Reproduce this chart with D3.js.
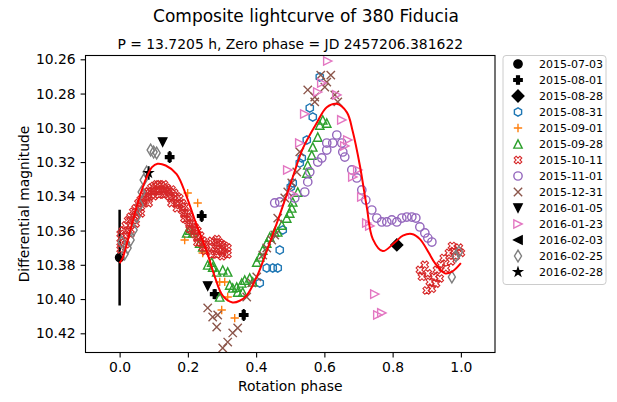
<!DOCTYPE html>
<html><head><meta charset="utf-8">
<script src="https://cdn.jsdelivr.net/npm/d3@7"></script>
<style>body{margin:0;background:#fff;} text{font-family:"DejaVu Sans",sans-serif;fill:#000;}</style>
</head><body><svg id="c" width="617" height="402"></svg>
<script>
// ---------- data ----------
const seriesDates = ["2015-07-03","2015-08-01","2015-08-28","2015-08-31","2015-09-01","2015-09-28","2015-10-11","2015-11-01","2015-12-31","2016-01-05","2016-01-23","2016-02-03","2016-02-25","2016-02-28"];
const seriesMarkers = ["o","P","D","h","+","^","X","o","x","v",">","<","d","*"];
const seriesColors = ["#000000","#000000","#000000","#1f77b4","#ff7f0e","#2ca02c","#d62728","#9467bd","#8c564b","#000000","#e377c2","#000000","#7f7f7f","#000000"];
const seriesFilled = [true,true,true,false,false,false,false,false,false,true,false,true,false,true];

const xTicks = [0.0,0.2,0.4,0.6,0.8,1.0];
const yTicks = [10.26,10.28,10.30,10.32,10.34,10.36,10.38,10.40,10.42];

const ph_0703 = [0.000];
const mag_0703 = [10.3758];
const err_0703 = [0.028];

const ph_0801 = [0.1466,0.2405,0.2786,0.3636];
const mag_0801 = [10.3171,10.3515,10.3971,10.4093];
const err_0801 = [0.0035,0.0035,0.003,0.0035];

const ph_0828 = [0.8123];
const mag_0828 = [10.3684];

const ph_0831 = [0.5865,0.5572,0.5660,0.5484,0.5337,0.5279,0.5073,0.5015,0.4780,0.4692,0.4633,0.4487,0.4311,0.4106];
const mag_0831 = [10.2703,10.2884,10.2937,10.3071,10.3176,10.3206,10.3322,10.3346,10.3597,10.3714,10.3819,10.3819,10.3819,10.3906];

const ph_0901 = [0.1994,0.2287,0.1906,0.2434,0.2933,0.3079,0.3167,0.2991,0.3372];
const mag_0901 = [10.3381,10.3439,10.3655,10.3731,10.3900,10.3900,10.3988,10.4064,10.4111];

const ph_0928 = [0.1965,0.2053,0.2141,0.2346,0.2434,0.2581,0.2698,0.2727,0.2845,0.2933,0.3021,0.3167,0.3226,0.3314,0.3431,0.3460,0.3578,0.3607,0.3666,0.3812,0.3900,0.4018,0.4106,0.4194,0.4311,0.4399,0.4545,0.4633,0.4751,0.4897,0.4985,0.5044,0.5073,0.5220,0.5484,0.5513,0.5630,0.5660,0.5806,0.5865,0.5953,0.6070];
const mag_0928 = [10.3614,10.3597,10.3614,10.3673,10.3696,10.3801,10.3784,10.3813,10.3842,10.3988,10.3830,10.3842,10.3918,10.3935,10.3930,10.3959,10.3906,10.3959,10.3889,10.3877,10.3900,10.3784,10.3754,10.3714,10.3673,10.3638,10.3608,10.3608,10.3568,10.3527,10.3498,10.3468,10.3433,10.3375,10.3264,10.3217,10.3159,10.3112,10.3054,10.2984,10.2954,10.2972];

const ph_1011 = [0.003,0.003,0.003,0.010,0.010,0.018,0.018,0.018,0.025,0.025,0.032,0.032,0.032,0.040,0.040,0.047,0.047,0.047,0.055,0.055,0.062,0.062,0.062,0.070,0.070,0.078,0.078,0.085,0.085,0.085,0.093,0.093,0.100,0.100,0.100,0.108,0.108,0.115,0.115,0.115,0.123,0.123,0.130,0.130,0.130,0.138,0.138,0.145,0.145,0.152,0.152,0.152,0.160,0.160,0.168,0.168,0.168,0.175,0.175,0.183,0.183,0.190,0.190,0.190,0.198,0.198,0.205,0.205,0.205,0.213,0.213,0.220,0.220,0.228,0.228,0.228,0.236,0.236,0.244,0.244,0.251,0.251,0.270,0.270,0.270,0.278,0.278,0.285,0.285,0.285,0.293,0.293,0.300,0.300,0.300,0.308,0.308,0.316,0.316,
  0.880,0.886,0.894,0.900,0.903,0.909,0.915,0.921,0.927,0.930,0.938,0.941,0.950,0.956,0.965,0.971,0.974,0.979,0.985,0.994,1.000];
const mag_1011 = [10.362,10.367,10.371,10.360,10.366,10.357,10.363,10.368,10.354,10.360,10.352,10.357,10.362,10.349,10.354,10.347,10.351,10.356,10.344,10.349,10.342,10.346,10.350,10.340,10.344,10.338,10.342,10.337,10.340,10.344,10.335,10.339,10.334,10.337,10.340,10.333,10.337,10.333,10.336,10.339,10.334,10.337,10.333,10.336,10.339,10.335,10.338,10.337,10.340,10.336,10.341,10.344,10.338,10.342,10.340,10.344,10.347,10.341,10.345,10.344,10.348,10.346,10.350,10.353,10.350,10.354,10.352,10.356,10.359,10.356,10.360,10.358,10.362,10.360,10.364,10.367,10.363,10.367,10.366,10.370,10.368,10.372,10.366,10.370,10.374,10.367,10.372,10.365,10.369,10.374,10.367,10.371,10.368,10.372,10.375,10.369,10.373,10.370,10.374,
  10.383,10.387,10.380,10.395,10.385,10.390,10.394,10.387,10.391,10.383,10.388,10.380,10.376,10.382,10.373,10.378,10.369,10.372,10.375,10.370,10.373];

const ph_1101 = [0.4545,0.4692,0.5132,0.5425,0.5513,0.5572,0.5806,0.5924,0.6070,0.6070,0.6246,0.6364,0.6510,0.6540,0.6598,0.6804,0.6950,0.7097,0.7214,0.7390,0.7537,0.7683,0.7830,0.7977,0.8123,0.8270,0.8416,0.8563,0.8680,0.8798,0.8944,0.9032,0.9150];
const mag_1101 = [10.3439,10.3433,10.3410,10.3375,10.3316,10.3258,10.3200,10.3176,10.3130,10.3089,10.3089,10.3042,10.3089,10.3141,10.3171,10.3246,10.3293,10.3363,10.3422,10.3480,10.3527,10.3550,10.3550,10.3538,10.3550,10.3527,10.3521,10.3521,10.3527,10.3579,10.3614,10.3644,10.3667];

const ph_1231 = [0.2581,0.2727,0.2874,0.2845,0.3021,0.3167,0.3314,0.3460,0.3724,0.3871,0.4018,0.4194,0.4311,0.4457,0.4545,0.4633,0.4839,0.4927,0.5044,0.5191,0.5279,0.5513,0.5718,0.5718,0.5894,0.6070,0.6012,0.6188,0.6305,0.6393];
const mag_1231 = [10.4052,10.4105,10.4093,10.4163,10.4286,10.4251,10.4198,10.4169,10.3988,10.3906,10.3871,10.3743,10.3702,10.3655,10.3626,10.3527,10.3410,10.3375,10.3322,10.3258,10.3141,10.2779,10.2820,10.2849,10.2692,10.2733,10.2762,10.2692,10.2808,10.2849];

const ph_0105 = [0.1261,0.2581];
const mag_0105 = [10.3083,10.3924];

const ph_0123 = [0.6100,0.5924,0.5806,0.6364,0.5425,0.6510,0.5279,0.6686,0.6598,0.4927,0.6979,0.6833,0.5073,0.7097,0.7243,0.7331,0.7478,0.7566,0.7683];
const mag_0123 = [10.2610,10.2738,10.2791,10.2808,10.2919,10.2954,10.3089,10.3071,10.3106,10.3246,10.3246,10.3287,10.3387,10.3404,10.3556,10.3573,10.3971,10.4093,10.4081];

const ph_0203 = [];
const mag_0203 = [];

const ph_0225 = [0.0909,0.0997,0.1085,0.0792,0.0704,0.0645,0.0587,0.0499,0.0411,0.0323,0.0235,0.0147,0.0059,0.9853,0.9941,0.9736];
const mag_0225 = [10.3130,10.3142,10.3147,10.3258,10.3305,10.3375,10.3451,10.3521,10.3597,10.3655,10.3702,10.3737,10.3667,10.3749,10.3725,10.3871];

const ph_0228 = [0.0850];
const mag_0228 = [10.3264];
const err_0228 = [0.004];

// Fourier fit curve, sampled
const fitPhase = [0.000,0.009,0.035,0.059,0.079,0.095,0.111,0.135,0.167,0.196,0.226,0.255,0.279,0.302,0.331,0.352,0.372,0.402,0.431,0.469,0.507,0.537,0.578,0.607,0.636,0.666,0.683,0.704,0.724,0.742,0.771,0.806,0.830,0.856,0.880,0.906,0.924,0.953,0.974,1.000];
const fitMag   = [10.379,10.376,10.357,10.340,10.329,10.323,10.321,10.322,10.327,10.340,10.357,10.372,10.387,10.398,10.402,10.401,10.398,10.387,10.372,10.351,10.329,10.312,10.297,10.288,10.286,10.291,10.302,10.322,10.346,10.365,10.372,10.367,10.363,10.362,10.365,10.373,10.379,10.385,10.384,10.379];

// ---------- chart ----------
const svg = d3.select("#c");
const L = 85.5, R = 495, T = 55.5, B = 352.5;
const x = d3.scaleLinear().domain([-0.1, 1.1]).range([L, R]);
const y = d3.scaleLinear().domain([10.25778, 10.43121]).range([T, B]);

function markerPath(type, s) {
  const h = s / 2;
  const poly = pts => "M" + pts.map(p => p[0].toFixed(2) + "," + p[1].toFixed(2)).join("L") + "Z";
  switch (type) {
    case "o": return `M${h},0A${h},${h} 0 1,1 ${-h},0A${h},${h} 0 1,1 ${h},0Z`;
    case "P": { const w = s / 6; return poly([[-w,-h],[w,-h],[w,-w],[h,-w],[h,w],[w,w],[w,h],[-w,h],[-w,w],[-h,w],[-h,-w],[-w,-w]]); }
    case "X": { const k = s / 4.4; return poly([[-k,-2*k],[0,-k],[k,-2*k],[2*k,-k],[k,0],[2*k,k],[k,2*k],[0,k],[-k,2*k],[-2*k,k],[-k,0],[-2*k,-k]]); }
    case "D": { const d = s * 0.7071; return poly([[0,-d],[d,0],[0,d],[-d,0]]); }
    case "d": { const d = s * 0.7071; return poly([[0,-d],[0.6*d,0],[0,d],[-0.6*d,0]]); }
    case "h": { const pts = []; for (let i = 0; i < 6; i++) { const a = Math.PI/2 + i*Math.PI/3; pts.push([h*Math.cos(a), -h*Math.sin(a)]); } return poly(pts); }
    case "+": return `M${-h},0L${h},0M0,${-h}L0,${h}`;
    case "x": return `M${-h},${-h}L${h},${h}M${-h},${h}L${h},${-h}`;
    case "^": return poly([[0,-h],[h,h],[-h,h]]);
    case "v": return poly([[0,h],[h,-h],[-h,-h]]);
    case ">": return poly([[h,0],[-h,-h],[-h,h]]);
    case "<": return poly([[-h,0],[h,-h],[h,h]]);
    case "*": { const pts = []; for (let i = 0; i < 10; i++) { const r = i % 2 ? h*0.381966 : h; const a = Math.PI/2 + i*Math.PI/5; pts.push([r*Math.cos(a), -r*Math.sin(a)]); } return poly(pts); }
  }
}

const MS = 8.33;
function drawMarkers(g, idx, phs, mags) {
  const type = seriesMarkers[idx], col = seriesColors[idx], filled = seriesFilled[idx];
  const data = phs.map((p, i) => [p, mags[i]]);
  g.selectAll(null).data(data).enter().append("path")
    .attr("transform", d => `translate(${x(d[0])},${y(d[1])})`)
    .attr("d", markerPath(type, MS))
    .attr("fill", filled ? col : "none")
    .attr("stroke", col)
    .attr("stroke-width", type === "X" ? 1.1 : 1.4)
    .attr("stroke-linejoin", "miter");
}
function drawErr(g, phs, mags, errs, w) {
  const data = phs.map((p, i) => [p, mags[i], errs[i]]);
  g.selectAll(null).data(data).enter().append("line")
    .attr("x1", d => x(d[0])).attr("x2", d => x(d[0]))
    .attr("y1", d => y(d[1] - d[2])).attr("y2", d => y(d[1] + d[2]))
    .attr("stroke", "#000").attr("stroke-width", w);
}

svg.append("defs").append("clipPath").attr("id", "clip")
  .append("rect").attr("x", L).attr("y", T).attr("width", R - L).attr("height", B - T);

const plot = svg.append("g").attr("clip-path", "url(#clip)");

const order = [
  [0, ph_0703, mag_0703], [1, ph_0801, mag_0801], [2, ph_0828, mag_0828], [3, ph_0831, mag_0831],
  [4, ph_0901, mag_0901], [5, ph_0928, mag_0928], [6, ph_1011, mag_1011], [7, ph_1101, mag_1101],
  [8, ph_1231, mag_1231], [9, ph_0105, mag_0105], [10, ph_0123, mag_0123], [11, ph_0203, mag_0203],
  [12, ph_0225, mag_0225], [13, ph_0228, mag_0228]
];
drawErr(plot, ph_0703, mag_0703, err_0703, 2.5);
drawErr(plot, ph_0801, mag_0801, err_0801, 2);
drawErr(plot, ph_0228, mag_0228, err_0228, 2);
order.forEach(o => drawMarkers(plot.append("g"), o[0], o[1], o[2]));

// fit curve
const fitData = fitPhase.map((p, i) => [p, fitMag[i]]);
plot.append("path").datum(fitData)
  .attr("d", d3.line().x(d => x(d[0])).y(d => y(d[1])).curve(d3.curveCatmullRom.alpha(0.5)))
  .attr("fill", "none").attr("stroke", "#ff0000").attr("stroke-width", 2);

// axes
const fs = 13.9;
const xAxis = svg.append("g").attr("transform", `translate(0,${B})`)
  .call(d3.axisBottom(x).tickValues(xTicks).tickFormat(d3.format(".1f")).tickSize(4.9).tickSizeOuter(0).tickPadding(4.9));
const yAxis = svg.append("g").attr("transform", `translate(${L},0)`)
  .call(d3.axisLeft(y).tickValues(yTicks).tickFormat(d3.format(".2f")).tickSize(4.9).tickSizeOuter(0).tickPadding(4.9));
[xAxis, yAxis].forEach(a => {
  a.select(".domain").remove();
  a.selectAll("text").attr("font-size", fs).attr("font-family", "DejaVu Sans").attr("fill", "#000");
  a.selectAll("line").attr("stroke", "#000").attr("stroke-width", 1.1);
});
svg.append("rect").attr("x", L).attr("y", T).attr("width", R - L).attr("height", B - T)
  .attr("fill", "none").attr("stroke", "#000").attr("stroke-width", 1.1);

// labels
svg.append("text").attr("x", (L + R) / 2).attr("y", 391).attr("text-anchor", "middle").attr("font-size", fs).text("Rotation phase");
svg.append("text").attr("transform", `translate(29,${(T + B) / 2}) rotate(-90)`).attr("text-anchor", "middle").attr("font-size", fs).text("Differential magnitude");
svg.append("text").attr("x", 306).attr("y", 22).attr("text-anchor", "middle").attr("font-size", 17).text("Composite lightcurve of 380 Fiducia");
svg.append("text").attr("x", (L + R) / 2).attr("y", 49).attr("text-anchor", "middle").attr("font-size", fs).text("P = 13.7205 h, Zero phase = JD 2457206.381622");

// legend
const lg = svg.append("g");
lg.append("rect").attr("x", 503).attr("y", 55.5).attr("width", 103).attr("height", 229).attr("rx", 3)
  .attr("fill", "#fff").attr("stroke", "#cccccc").attr("stroke-width", 1);
const items = lg.selectAll(null).data(seriesDates).enter().append("g")
  .attr("transform", (d, i) => `translate(0,${64 + i * 16})`);
items.append("path").attr("transform", "translate(518,0)")
  .attr("d", (d, i) => markerPath(seriesMarkers[i], MS))
  .attr("fill", (d, i) => seriesFilled[i] ? seriesColors[i] : "none")
  .attr("stroke", (d, i) => seriesColors[i]).attr("stroke-width", (d, i) => seriesMarkers[i] === "X" ? 1.1 : 1.4);
items.append("text").attr("x", 539).attr("y", 4).attr("font-size", 11).text(d => d);
</script>
</body></html>
